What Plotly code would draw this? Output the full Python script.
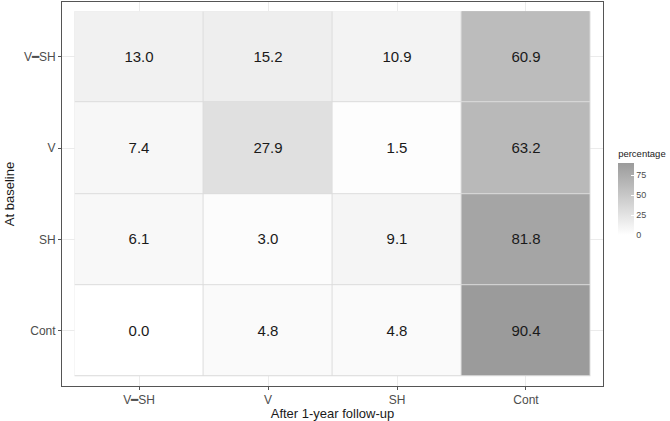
import plotly.graph_objects as go

DASH = "━"
followup = ["V" + DASH + "SH", "V", "SH", "Cont"]
baseline = ["Cont", "SH", "V", "V" + DASH + "SH"]  # bottom to top

# rows follow baseline order (bottom to top)
row_cont = [0.0, 4.8, 4.8, 90.4]
row_sh = [6.1, 3.0, 9.1, 81.8]
row_v = [7.4, 27.9, 1.5, 63.2]
row_vsh = [13.0, 15.2, 10.9, 60.9]
z = [row_cont, row_sh, row_v, row_vsh]
text = [[f"{v:.1f}" for v in r] for r in z]

fig = go.Figure()
fig.add_trace(go.Heatmap(
    x=followup, y=baseline, z=z, text=text, texttemplate="%{text}",
    textfont=dict(size=15, color="#1a1a1a", family="Liberation Sans, Arial"),
    xgap=1, ygap=1, zmin=0, zmax=90.4,
    colorscale=[[0, "#ffffff"], [1, "#9b9b9b"]],
    hoverinfo="skip",
    colorbar=dict(
        title=dict(text="percentage", side="top", font=dict(size=9.5, color="#1a1a1a")),
        x=1.028, xanchor="left", xpad=0, y=0.508, yanchor="middle", ypad=0,
        thickness=16, lenmode="pixels", len=88,
        outlinewidth=0, tickvals=[0, 25, 50, 75],
        ticks="inside", tickcolor="white", ticklen=3,
        tickfont=dict(size=9, color="#4d4d4d"),
    ),
))
fig.add_shape(type="rect", xref="x", yref="y", x0=-0.5, x1=3.5, y0=-0.5, y1=3.5,
              fillcolor="#dcdcdc", line=dict(width=0), layer="between")

axis_common = dict(
    type="category", showgrid=True, gridcolor="#ebebeb", gridwidth=1,
    showline=True, linecolor="#555555", linewidth=1, mirror=True,
    ticks="outside", ticklen=3, tickcolor="#555555",
    tickfont=dict(size=12, color="#4d4d4d", family="Liberation Sans, Arial"),
    zeroline=False,
)
fig.update_xaxes(**axis_common, categoryorder="array", categoryarray=followup,
                 range=[-0.597, 3.597],
                 title=dict(text="After 1-year follow-up", standoff=1,
                            font=dict(size=13, color="#1a1a1a")))
fig.update_yaxes(**axis_common, categoryorder="array", categoryarray=baseline,
                 range=[-0.607, 3.6],
                 title=dict(text="At baseline", standoff=6,
                            font=dict(size=13, color="#1a1a1a")))

fig.update_layout(
    width=670, height=421,
    margin=dict(l=62, r=67, t=2, b=35, autoexpand=False),
    paper_bgcolor="white", plot_bgcolor="white",
    font=dict(family="Liberation Sans, Arial"),
)
fig.write_html("out.html", config={"displayModeBar": False},
               post_script="document.body.style.margin='0';document.body.style.padding='0';")
